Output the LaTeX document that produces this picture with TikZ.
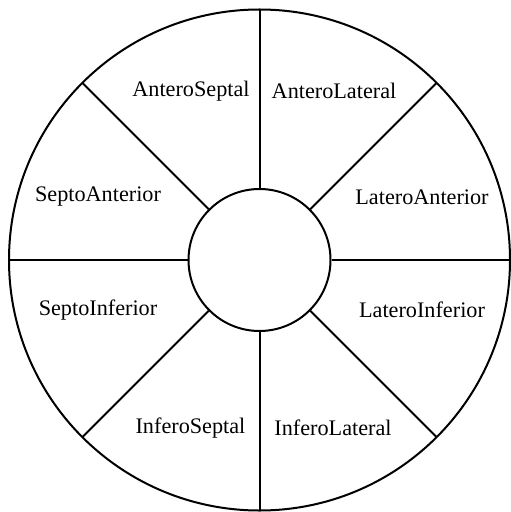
\documentclass[tikz,border=0pt]{standalone}
\usepackage{fontspec}
\setmainfont{Liberation Serif}
\usetikzlibrary{calc}
\begin{document}
\begin{tikzpicture}[x=1bp,y=-1bp,
  ring/.style={draw=black,line width=2bp},
  spoke/.style={draw=black,line width=2bp},
  lbl/.style={font=\fontsize{22.3}{25}\selectfont,inner sep=0pt}]
\useasboundingbox (0,0) rectangle (511,512);
\coordinate (c) at (259.5,260);
\draw[ring] (c) circle[radius=250.5];
\node[ring,circle,minimum size=142bp,inner sep=0pt] (core) at (c) {};
\foreach \a in {0,45,...,315}{
  \coordinate (o\a) at ($(c)+({250.5*cos(\a)},{-250.5*sin(\a)})$);
  \draw[spoke] (o\a) -- (core.\a);
}
\node[lbl] (as) at (191,91) {AnteroSeptal};
\node[lbl] (al) at (334,91) {AnteroLateral};
\node[lbl] (sa) at (98,197) {SeptoAnterior};
\node[lbl] (la) at (422,197) {LateroAnterior};
\node[lbl] (si) at (98,310) {SeptoInferior};
\node[lbl] (li) at (422,310) {LateroInferior};
\node[lbl] (is) at (190.5,428) {InferoSeptal};
\node[lbl] (il) at (333,428) {InferoLateral};
\end{tikzpicture}
\end{document}
